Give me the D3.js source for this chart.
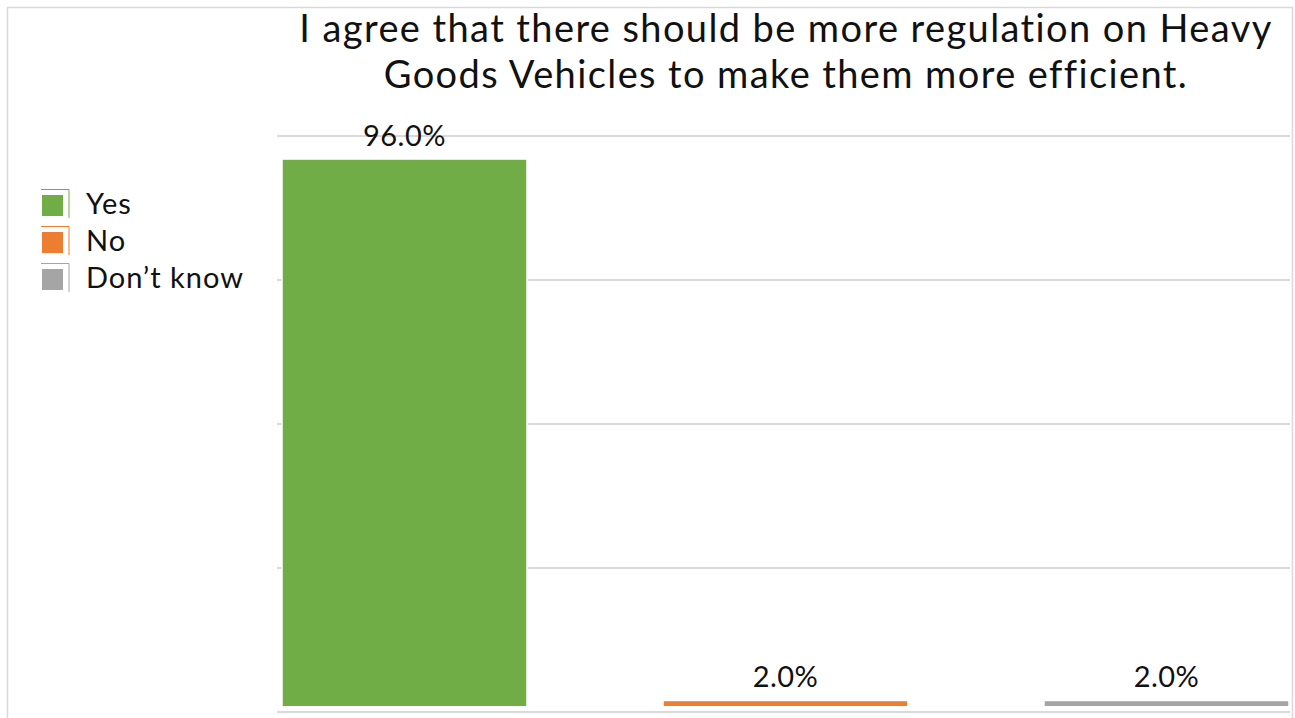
<!DOCTYPE html>
<html>
<head>
<meta charset="utf-8">
<script src="https://cdn.jsdelivr.net/npm/d3@7"></script>
<style>
  html, body { margin: 0; padding: 0; background: #fff; }
  svg { display: block; font-family: Lato, "Open Sans", sans-serif; }
</style>
</head>
<body>
<div id="chart"></div>
<script>
// data
const categories = ['Yes', 'No', 'Don\u2019t know'];
const values = [0.96, 0.02, 0.02];
const colors = ['#70ad47', '#ed7d31', '#a5a5a5'];
const yTicks = [0, 0.25, 0.5, 0.75, 1];
const titleLines = [
    'I agree that there should be more regulation on Heavy',
    'Goods Vehicles to make them more efficient.'
];

const width = 1295, height = 718;
const plot = { left: 277, right: 1290, top: 120, bottom: 706 };

const svg = d3.select('#chart')
    .append('svg')
    .attr('width', width)
    .attr('height', height);

// outer chart border
svg.append('rect')
    .attr('x', 7.5).attr('y', 7.5)
    .attr('width', 1285).attr('height', 730)
    .attr('fill', '#fff')
    .attr('stroke', '#d9d9d9')
    .attr('stroke-width', 1.5);

const x = d3.scaleBand()
    .domain(categories)
    .range([214, 1357])
    .paddingInner(0.357)
    .paddingOuter(0.1785);

const y = d3.scaleLinear()
    .domain([0, 1])
    .range([712, 136]);

svg.append('defs').append('clipPath')
    .attr('id', 'plot-clip')
    .append('rect')
    .attr('x', plot.left).attr('y', plot.top)
    .attr('width', plot.right - plot.left)
    .attr('height', plot.bottom - plot.top);

/* gridlines */
svg.append('g')
    .attr('class', 'grid')
    .selectAll('line')
    .data(yTicks)
    .join('line')
    .attr('x1', plot.left)
    .attr('x2', plot.right)
    .attr('y1', d => y(d))
    .attr('y2', d => y(d))
    .attr('stroke', '#d9d9d9')
    .attr('stroke-width', 2);

/* bars */
svg.append('g')
    .attr('class', 'bars')
    .attr('clip-path', 'url(#plot-clip)')
    .selectAll('rect')
    .data(values)
    .join('rect')
    .attr('x', (d, i) => x(categories[i]))
    .attr('y', d => y(d))
    .attr('width', x.bandwidth())
    .attr('height', d => y(0) - y(d))
    .attr('fill', (d, i) => colors[i])
    .attr('stroke', '#fff')
    .attr('stroke-width', 1.5);

/* value labels */
svg.append('g')
    .attr('class', 'labels')
    .selectAll('text')
    .data(values)
    .join('text')
    .attr('x', (d, i) => x(categories[i]) + x.bandwidth() / 2)
    .attr('y', d => y(d) - 13)
    .attr('text-anchor', 'middle')
    .attr('font-size', 29)
    .attr('letter-spacing', 0.5)
    .attr('fill', '#111')
    .text(d => d3.format('.1%')(d));

/* title */
svg.append('text')
    .attr('class', 'title')
    .attr('x', 786)
    .attr('y', 42)
    .attr('text-anchor', 'middle')
    .attr('font-size', 38)
    .attr('letter-spacing', 1.4)
    .attr('fill', '#111')
    .selectAll('tspan')
    .data(titleLines)
    .join('tspan')
    .attr('x', 786)
    .attr('dy', (d, i) => i === 0 ? 0 : 46)
    .text(d => d);

/* legend */
const legend = svg.append('g')
    .attr('class', 'legend')
    .attr('transform', 'translate(41, 189)');

const item = legend.selectAll('g')
    .data(categories)
    .join('g')
    .attr('transform', (d, i) => `translate(0, ${i * 37})`);

item.append('rect')
    .attr('x', 1).attr('y', 6)
    .attr('width', 21).attr('height', 21)
    .attr('fill', (d, i) => colors[i]);

item.append('path')
    .attr('d', 'M0,0.5H28V29')
    .attr('fill', 'none')
    .attr('stroke', (d, i) => colors[i])
    .attr('stroke-width', 1);

item.append('text')
    .attr('x', 45)
    .attr('y', 25)
    .attr('font-size', 29)
    .attr('letter-spacing', 1)
    .attr('fill', '#111')
    .text(d => d);
</script>
</body>
</html>
